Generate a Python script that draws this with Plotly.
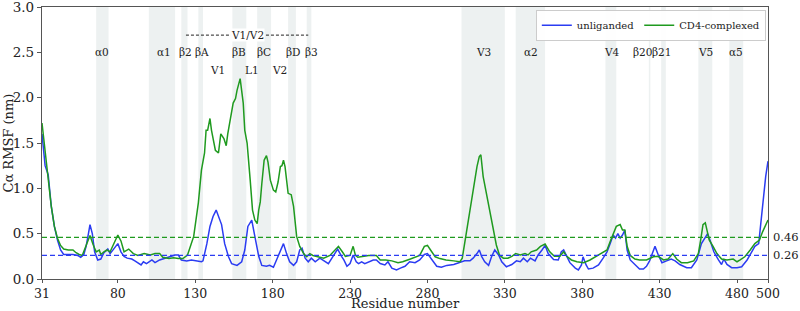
import plotly.graph_objects as go

# ---------------- data ----------------
res_cd4 = [31, 33, 35, 37, 39, 41, 43, 45, 48, 51, 53, 55, 57, 59, 60, 62, 64, 66, 68, 69, 71, 73, 75, 77, 80, 82, 84, 87, 90, 93,
           97, 101, 104, 107, 109, 113, 116, 119, 122, 125, 127, 129, 132, 134, 136, 137, 138, 139.5, 140.5, 143, 145, 146.5,
           148.5, 150, 151, 152.5, 154.5, 156, 157, 159, 161, 162, 163.5, 165.5, 167, 168.5, 170, 171, 172, 173, 174.5, 176,
           177, 178.5, 180.5, 182, 183.5, 185, 186, 187, 188, 190, 192, 193.5, 195.5, 197.5, 200, 202, 204, 206, 209.5, 213,
           217, 220, 222.5, 225, 227, 230, 232, 233.5, 235, 239, 242, 247, 249.5, 253, 257, 261, 264, 269, 275, 278, 280, 282,
           285, 288, 292, 297, 301, 302.5, 304, 306.5, 308.5, 310.5, 312, 313.5, 314.5, 316, 318.5, 320.5, 322.5, 324.5, 326.5,
           329, 332, 334.5, 337, 340, 343, 345, 347, 350.5, 353, 356, 359, 362, 365.5, 368, 370, 373, 376.5, 381, 385, 389,
           392.5, 396, 398, 400, 402, 404.5, 406, 407.5, 409, 411, 414, 417, 421.5, 426, 429, 432.5, 435.5, 438.5, 441, 444,
           448, 452, 455, 456.5, 458, 459.5, 460.5, 462, 464.5, 467, 470, 473.5, 477.5, 480, 482, 485, 488.5, 491.5, 494.5,
           496.5, 500]
rmsf_cd4 = [1.72, 1.40, 1.10, 0.80, 0.58, 0.45, 0.37, 0.33, 0.32, 0.32, 0.29, 0.27, 0.26, 0.35, 0.38, 0.48, 0.38, 0.30, 0.32,
            0.27, 0.30, 0.32, 0.30, 0.37, 0.485, 0.42, 0.30, 0.33, 0.28, 0.26, 0.28, 0.265, 0.28, 0.28, 0.24, 0.225, 0.235,
            0.225, 0.225, 0.265, 0.36, 0.47, 0.84, 1.20, 1.39, 1.64, 1.64, 1.77, 1.64, 1.42, 1.39, 1.60, 1.55, 1.47, 1.60,
            1.75, 1.94, 1.99, 2.08, 2.21, 1.94, 1.64, 1.50, 1.09, 0.76, 0.65, 0.61, 0.76, 0.85, 1.05, 1.31, 1.36, 1.29, 1.09,
            0.98, 0.96, 1.07, 1.24, 1.25, 1.31, 1.24, 0.945, 0.93, 0.80, 0.47, 0.36, 0.28, 0.245, 0.28, 0.26, 0.245, 0.23,
            0.26, 0.32, 0.36, 0.30, 0.25, 0.26, 0.36, 0.26, 0.24, 0.25, 0.26, 0.26, 0.21, 0.21, 0.20, 0.18, 0.19, 0.22, 0.26,
            0.36, 0.37, 0.32, 0.245, 0.225, 0.21, 0.20, 0.19, 0.23, 0.39, 0.65, 0.91, 1.09, 1.24, 1.35, 1.37, 1.13, 0.91,
            0.74, 0.54, 0.375, 0.265, 0.23, 0.23, 0.25, 0.28, 0.265, 0.28, 0.265, 0.30, 0.32, 0.36, 0.385, 0.30, 0.25, 0.25,
            0.30, 0.25, 0.21, 0.19, 0.18, 0.21, 0.25, 0.28, 0.32, 0.41, 0.50, 0.58, 0.60, 0.54, 0.54, 0.36, 0.26, 0.22, 0.21,
            0.21, 0.245, 0.25, 0.21, 0.22, 0.28, 0.22, 0.18, 0.18, 0.20, 0.28, 0.43, 0.60, 0.62, 0.54, 0.43, 0.36, 0.28, 0.22,
            0.21, 0.22, 0.19, 0.21, 0.245, 0.32, 0.39, 0.43, 0.52, 0.65]

res_unlig = [31, 33, 35, 37, 39, 41, 43, 45, 48, 51, 54, 56, 58, 59.5, 61, 62, 63.5, 65, 67, 69, 71, 73.5, 75, 77, 80, 82, 84,
             86, 89, 91, 93, 95, 96.5, 98.5, 102, 104, 107, 110.5, 113.5, 117, 119, 121, 124.5, 127.5, 131, 134, 135, 137.5,
             139.5, 141.5, 143.5, 145.5, 147, 149, 151.5, 153.5, 157, 160, 162, 164, 166.5, 168.5, 171, 173, 176, 178, 180.5,
             182.5, 185, 187, 189, 191, 193.5, 195.5, 197.5, 199, 201, 203, 205, 207.5, 210.5, 214, 216, 219, 222, 224.5, 226,
             228, 230, 232, 234, 235.5, 237.5, 239.5, 243, 245, 247, 249.5, 252.5, 254.5, 257, 260, 262.5, 265.5, 268.5, 272,
             275, 278, 280, 282.5, 286, 289, 292.5, 297, 301, 304, 307.5, 309.5, 312, 313.5, 315, 317, 319.5, 321.5, 323.5,
             326, 328, 331, 334.5, 337.5, 340, 342, 344.5, 346.5, 349.5, 351.5, 354, 356, 358, 361.5, 364.5, 366.5, 368, 370,
             372, 375.5, 377.5, 379.5, 380.5, 382.5, 384, 387, 390.5, 393.5, 396, 398, 400, 401.5, 403, 404.5, 406, 407.5, 409,
             411, 414, 417, 419.5, 421.5, 423.5, 427, 429, 431.5, 434.5, 437.5, 440, 443, 447.5, 450.5, 454, 457, 459.5, 461,
             462.5, 465, 468, 470, 471.5, 473.5, 476.5, 480, 483, 486.5, 489.5, 491.5, 494, 495.5, 497, 498.5, 500]
rmsf_unlig = [1.60, 1.25, 1.15, 0.80, 0.58, 0.43, 0.32, 0.27, 0.27, 0.27, 0.26, 0.24, 0.27, 0.36, 0.50, 0.60, 0.50, 0.30,
              0.21, 0.22, 0.29, 0.33, 0.28, 0.32, 0.39, 0.30, 0.25, 0.23, 0.22, 0.20, 0.18, 0.155, 0.19, 0.17, 0.21, 0.18,
              0.21, 0.225, 0.245, 0.265, 0.265, 0.21, 0.20, 0.21, 0.20, 0.19, 0.20, 0.39, 0.58, 0.69, 0.76, 0.67, 0.60,
              0.39, 0.245, 0.17, 0.15, 0.19, 0.32, 0.58, 0.65, 0.47, 0.25, 0.15, 0.14, 0.15, 0.13, 0.21, 0.30, 0.39, 0.28,
              0.19, 0.15, 0.19, 0.32, 0.34, 0.23, 0.19, 0.23, 0.19, 0.23, 0.19, 0.17, 0.25, 0.33, 0.25, 0.21, 0.14, 0.17,
              0.265, 0.19, 0.17, 0.19, 0.17, 0.19, 0.21, 0.21, 0.17, 0.155, 0.19, 0.12, 0.10, 0.12, 0.14, 0.19, 0.18, 0.21,
              0.27, 0.28, 0.22, 0.14, 0.13, 0.15, 0.16, 0.18, 0.20, 0.20, 0.23, 0.28, 0.32, 0.25, 0.19, 0.15, 0.25, 0.32,
              0.265, 0.19, 0.135, 0.16, 0.20, 0.19, 0.23, 0.19, 0.23, 0.20, 0.265, 0.32, 0.37, 0.28, 0.215, 0.21, 0.30,
              0.32, 0.25, 0.18, 0.12, 0.10, 0.155, 0.245, 0.155, 0.11, 0.12, 0.155, 0.23, 0.30, 0.39, 0.485, 0.45, 0.50,
              0.45, 0.485, 0.54, 0.32, 0.21, 0.155, 0.11, 0.11, 0.14, 0.20, 0.36, 0.27, 0.18, 0.20, 0.22, 0.20, 0.16,
              0.125, 0.125, 0.21, 0.39, 0.46, 0.50, 0.43, 0.30, 0.21, 0.16, 0.22, 0.16, 0.125, 0.125, 0.135, 0.21, 0.30,
              0.36, 0.39, 0.65, 0.91, 1.13, 1.30]

mean_cd4 = 0.46
mean_unlig = 0.26

region_names = ["α0", "α1", "β2", "βA", "βB", "βC", "βD", "β3", "V3", "α2", "V4", "β20", "β21", "V5", "α5"]
region_start = [66, 100, 121, 132, 154, 170, 190, 202, 302, 337, 395, 423, 431, 455, 475]
region_end = [74, 117, 125, 135, 163, 179, 195, 205, 330, 356, 402, 424, 434, 464, 484]
label_x = [70, 110, 124, 134.5, 158.5, 174.5, 193.5, 205, 316.5, 347, 399, 419, 431.5, 459.5, 479.5]

loop_names = ["V1", "L1", "V2"]
loop_x = [144.5, 166.5, 184.5]

xticks = [31, 80, 130, 180, 230, 280, 330, 380, 430, 480, 500]
yticks = [0.0, 0.5, 1.0, 1.5, 2.0, 2.5, 3.0]

BLUE = "#2b3cf2"
GREEN = "#1f9a1f"
FONT = "DejaVu Serif"
TXT = "#222222"

fig = go.Figure()

shapes = []
for s, e in zip(region_start, region_end):
    shapes.append(dict(type="rect", xref="x", yref="y", x0=s, x1=e, y0=0, y1=3,
                       fillcolor="#edf1f1", line=dict(width=0), layer="below"))
shapes.append(dict(type="line", xref="x", yref="y", x0=31, x1=500, y0=mean_cd4, y1=mean_cd4,
                   line=dict(color=GREEN, width=1.3, dash="5px,3px")))
shapes.append(dict(type="line", xref="x", yref="y", x0=31, x1=500, y0=mean_unlig, y1=mean_unlig,
                   line=dict(color=BLUE, width=1.3, dash="5px,3px")))
shapes.append(dict(type="line", xref="x", yref="y", x0=124, x1=203, y0=2.69, y1=2.69,
                   line=dict(color=TXT, width=1, dash="3px,2px")))

fig.add_trace(go.Scatter(x=res_unlig, y=rmsf_unlig, mode="lines", name="unliganded",
                         line=dict(color=BLUE, width=1.5)))
fig.add_trace(go.Scatter(x=res_cd4, y=rmsf_cd4, mode="lines", name="CD4-complexed",
                         line=dict(color=GREEN, width=1.5)))

annotations = []
for n, x in zip(region_names, label_x):
    annotations.append(dict(x=x, y=2.5, xref="x", yref="y", text=n, showarrow=False,
                            font=dict(family=FONT, size=10.5, color=TXT)))
for n, x in zip(loop_names, loop_x):
    annotations.append(dict(x=x, y=2.31, xref="x", yref="y", text=n, showarrow=False,
                            font=dict(family=FONT, size=10.5, color=TXT)))
annotations.append(dict(x=163.5, y=2.69, xref="x", yref="y", text="V1/V2", showarrow=False,
                        bgcolor="white", borderpad=0, font=dict(family=FONT, size=10.5, color=TXT)))
for v in (mean_cd4, mean_unlig):
    annotations.append(dict(x=1.0, y=v, xref="paper", yref="y", text=f"{v:.2f}", showarrow=False,
                            xanchor="left", xshift=3, font=dict(family=FONT, size=11.5, color=TXT)))
# axis titles
annotations.append(dict(x=0.5, y=0, xref="paper", yref="paper", text="Residue number", showarrow=False,
                        xanchor="center", yanchor="top", yshift=-15, font=dict(family=FONT, size=13, color=TXT)))
annotations.append(dict(x=0, y=0.5, xref="paper", yref="paper", text="Cα RMSF (nm)", showarrow=False,
                        textangle=-90, xanchor="right", yanchor="middle", xshift=-25,
                        font=dict(family=FONT, size=13, color=TXT)))

fig.update_layout(
    width=800, height=311,
    margin=dict(l=42, r=32, t=7, b=32),
    plot_bgcolor="white", paper_bgcolor="white",
    font=dict(family=FONT, size=13, color=TXT),
    shapes=shapes, annotations=annotations,
    showlegend=True,
    legend=dict(orientation="h", x=0.997, xanchor="right", y=0.99, yanchor="top",
                bgcolor="rgba(255,255,255,0.9)", bordercolor="#cccccc", borderwidth=1,
                font=dict(family=FONT, size=10, color=TXT),
                tracegroupgap=0),
    xaxis=dict(range=[31, 500], tickvals=xticks, ticktext=[str(t) for t in xticks], automargin=False,
               showgrid=False, zeroline=False, showline=True, linecolor="#555", linewidth=1.2,
               mirror=True, ticks="outside", ticklen=3, tickcolor="#555", ticklabeloverflow="allow",
               tickfont=dict(family=FONT, size=12.5)),
    yaxis=dict(range=[0, 3], tickvals=yticks, ticktext=[f"{t:.1f}" for t in yticks], automargin=False,
               showgrid=False, zeroline=False, showline=True, linecolor="#555", linewidth=1.2,
               mirror=True, ticks="outside", ticklen=4, tickcolor="#555", ticklabeloverflow="allow",
               tickfont=dict(family=FONT, size=13.5)),
)

fig.write_html("out.html", config={"displayModeBar": False},
               post_script="document.body.style.margin='0';document.body.style.overflow='hidden';")
